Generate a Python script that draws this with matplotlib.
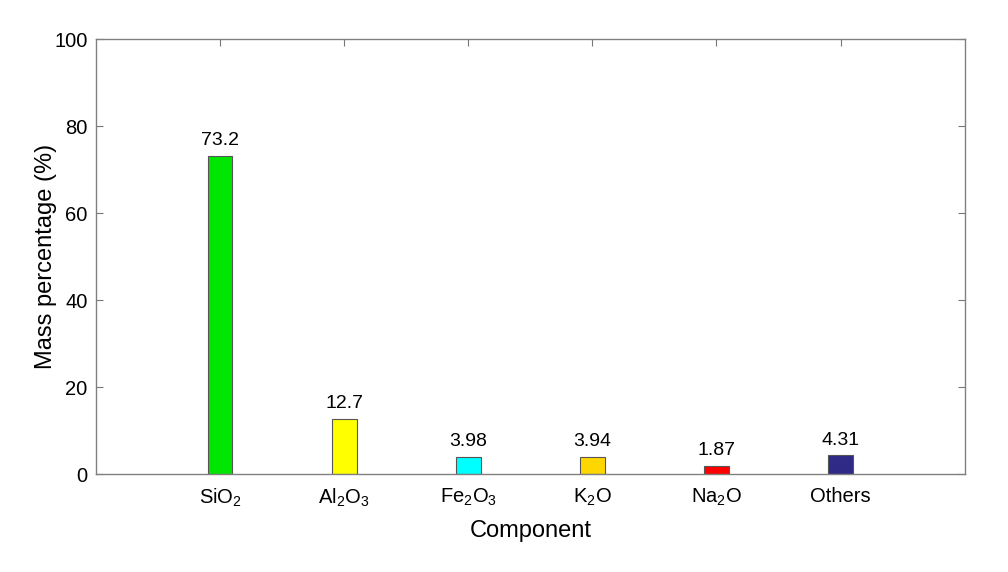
import matplotlib
matplotlib.use('Agg')
import matplotlib.pyplot as plt

plt.rcParams['font.family'] = ['Liberation Sans', 'DejaVu Sans']
plt.rcParams['mathtext.fontset'] = 'custom'
plt.rcParams['mathtext.rm'] = 'Liberation Sans'

# data
components = ['$\\mathregular{SiO_2}$', '$\\mathregular{Al_2O_3}$', '$\\mathregular{Fe_2O_3}$',
              '$\\mathregular{K_2O}$', '$\\mathregular{Na_2O}$', 'Others']
mass_pct = [73.2, 12.7, 3.98, 3.94, 1.87, 4.31]
value_labels = ['73.2', '12.7', '3.98', '3.94', '1.87', '4.31']
bar_colors = ['#00e600', '#ffff00', '#00ffff', '#ffd700', '#ff0000', '#2e2a86']

fig, ax = plt.subplots(figsize=(10.08, 5.72), dpi=100)
fig.subplots_adjust(left=0.0952, right=0.957, bottom=0.1713, top=0.9318)
ax.set_axisbelow(True)

pos = list(range(1, len(mass_pct) + 1))
ax.bar(pos, mass_pct, width=0.2, color=bar_colors, edgecolor='#555555', linewidth=0.8, zorder=2)
for x, v, t in zip(pos, mass_pct, value_labels):
    ax.text(x, v + 1.5, t, ha='center', va='bottom', fontsize=14)

ax.set_xlim(0, 7)
ax.set_ylim(0, 100)
ax.set_xticks(pos)
ax.set_xticklabels(components)
ax.set_yticks(range(0, 101, 20))
ax.tick_params(direction='in', top=True, right=True, labelsize=14.5, color='#777777', length=5)
ax.tick_params(axis='x', pad=9)
ax.tick_params(axis='y', pad=6)
for s in ax.spines.values():
    s.set_color('#808080')
    s.set_linewidth(1)
    s.set_zorder(3)
ax.set_xlabel('Component', fontsize=17, labelpad=8)
ax.set_ylabel('Mass percentage (%)', fontsize=17, labelpad=-2)

plt.savefig('out.png', dpi=100)
